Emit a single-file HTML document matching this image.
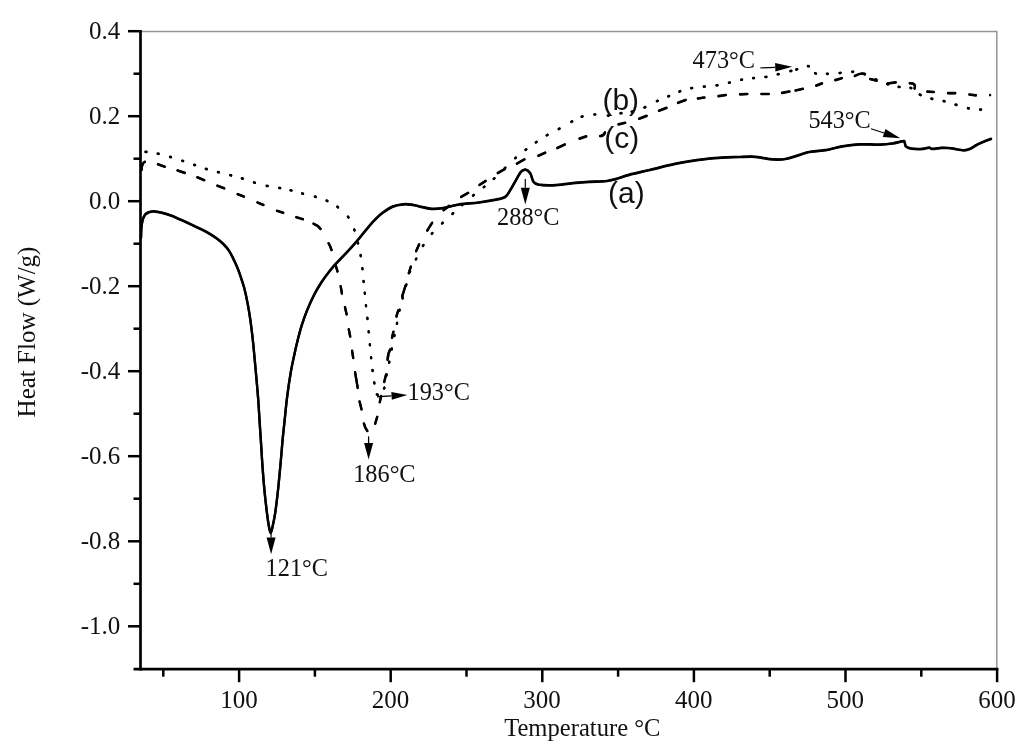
<!DOCTYPE html>
<html lang="en"><head><meta charset="utf-8"><title>DSC heat flow curves</title>
<style>html,body{margin:0;padding:0;background:#fff}svg{display:block}.s{font-family:"Liberation Serif","Times New Roman",serif;font-size:24.3px;fill:#111}.t{font-size:25px}.l{font-size:24.6px}.a{font-family:"Liberation Sans",Arial,sans-serif;font-size:30px;fill:#111}</style></head><body>
<svg width="1024" height="755" viewBox="0 0 1024 755">
<rect width="1024" height="755" fill="#fff"/>
<path d="M140.5 31.6H996.8V669.2" fill="none" stroke="#959595" stroke-width="1.5"/>
<g stroke="#000" stroke-width="2.7" fill="none" stroke-linecap="butt">
<path d="M140.5 29.9V670.6"/>
<path d="M133.5 669.2H998.4"/>
</g>
<g stroke="#000" stroke-width="2.5" fill="none">
<path d="M128.0 31.2H140.5"/>
<path d="M133.5 73.7H140.5"/>
<path d="M128.0 116.2H140.5"/>
<path d="M133.5 158.7H140.5"/>
<path d="M128.0 201.2H140.5"/>
<path d="M133.5 243.7H140.5"/>
<path d="M128.0 286.2H140.5"/>
<path d="M133.5 328.7H140.5"/>
<path d="M128.0 371.2H140.5"/>
<path d="M133.5 413.7H140.5"/>
<path d="M128.0 456.2H140.5"/>
<path d="M133.5 498.7H140.5"/>
<path d="M128.0 541.3H140.5"/>
<path d="M133.5 583.8H140.5"/>
<path d="M128.0 626.3H140.5"/>
<path d="M163.3 669.2V676.7"/>
<path d="M239.1 669.2V682.2"/>
<path d="M314.9 669.2V676.7"/>
<path d="M390.7 669.2V682.2"/>
<path d="M466.5 669.2V676.7"/>
<path d="M542.3 669.2V682.2"/>
<path d="M618.1 669.2V676.7"/>
<path d="M693.9 669.2V682.2"/>
<path d="M769.7 669.2V676.7"/>
<path d="M845.5 669.2V682.2"/>
<path d="M921.3 669.2V676.7"/>
<path d="M997.1 669.2V682.2"/>
</g>
<g class="s t" text-anchor="end">
<text x="120.3" y="38.8">0.4</text>
<text x="120.3" y="123.8">0.2</text>
<text x="120.3" y="208.8">0.0</text>
<text x="120.3" y="293.8">-0.2</text>
<text x="120.3" y="378.8">-0.4</text>
<text x="120.3" y="463.8">-0.6</text>
<text x="120.3" y="548.9">-0.8</text>
<text x="120.3" y="633.9">-1.0</text>
</g>
<g class="s t" text-anchor="middle">
<text x="238.9" y="708.3">100</text>
<text x="390.5" y="708.3">200</text>
<text x="542.1" y="708.3">300</text>
<text x="693.7" y="708.3">400</text>
<text x="845.3" y="708.3">500</text>
<text x="996.9" y="708.3">600</text>
</g>
<text class="s l" x="582.3" y="735.5" text-anchor="middle">Temperature °C</text>
<text class="s t" transform="translate(35 332) rotate(-90)" text-anchor="middle">Heat Flow (W/g)</text>
<g fill="none" stroke="#000" stroke-width="2.3" stroke-linejoin="round" stroke-linecap="round">
<g transform="translate(0 -0.2)">
<path d="M145.55 151.83l0.89 0.13M157.76 153.61l0.88 0.18M170.07 156.87l0.86 0.25M182.27 160.76l0.85 0.28M194.17 164.85l0.85 0.29M205.87 168.87l0.86 0.26M217.96 172.09l0.87 0.22M230.26 175.19l0.87 0.23M241.87 178.37l0.86 0.26M253.97 182.47l0.86 0.26M266.76 185.81l0.88 0.19M279.26 187.92l0.88 0.17M290.56 190.29l0.87 0.21M302.16 193.49l0.87 0.23M314.87 196.67l0.86 0.25M326.59 200.61l0.82 0.37M337.34 206.73l0.71 0.55M347.94 216.74l0.53 0.73M354.24 229.58l0.32 0.84M357.89 242.56l0.22 0.87M360.62 255.16l0.15 0.89M362.35 268.25l0.10 0.89M363.56 281.05l0.09 0.90M364.76 292.75l0.09 0.90M365.95 305.25l0.09 0.90M367.35 317.95l0.09 0.90M368.66 331.35l0.08 0.90M369.86 344.35l0.08 0.90M371.05 357.25l0.09 0.90M372.54 370.05l0.11 0.89M374.21 382.46l0.17 0.88M376.90 394.39l0.80 0.42M384.01 388.51l0.39 -0.81M386.51 375.44l0.17 -0.88M389.11 362.64l0.18 -0.88M391.71 349.44l0.17 -0.88M394.31 336.04l0.18 -0.88M396.91 323.74l0.18 -0.88M399.40 310.64l0.20 -0.88M402.58 298.33l0.23 -0.87M406.08 285.43l0.24 -0.87M409.74 272.12l0.32 -0.84M415.90 259.40l0.41 -0.80M422.96 245.88l0.48 -0.76M431.81 233.74l0.59 -0.68M442.07 223.41l0.65 -0.62M452.47 213.90l0.66 -0.61M461.96 205.10l0.67 -0.60M473.05 195.59l0.70 -0.57M483.75 187.18l0.70 -0.57M493.77 178.90l0.67 -0.60M504.68 168.31l0.65 -0.63M515.16 158.20l0.68 -0.59M525.54 149.87l0.72 -0.54M535.83 142.45l0.74 -0.51M546.71 135.33l0.78 -0.45M558.71 129.02l0.79 -0.43M571.40 121.81l0.80 -0.42M581.67 116.73l0.86 -0.27M594.35 114.52l0.90 -0.03M607.85 115.62l0.90 -0.04M620.56 113.27l0.89 -0.15M631.76 111.71l0.87 -0.22M644.49 107.48l0.83 -0.35M656.89 101.19l0.82 -0.38M668.29 96.38l0.83 -0.35M679.38 91.55l0.85 -0.30M691.26 88.19l0.88 -0.17M703.85 86.65l0.89 -0.10M716.56 85.37l0.89 -0.14M728.96 82.70l0.88 -0.20M741.16 79.78l0.88 -0.16M753.15 78.15l0.89 -0.10M765.46 76.97l0.89 -0.14M777.76 74.30l0.88 -0.21M790.46 71.11l0.87 -0.22M796.37 69.52l0.87 -0.24M807.96 66.11l0.88 0.19M815.08 73.23l0.84 0.33M826.95 73.81l0.90 -0.01M839.65 73.04l0.90 -0.07M852.25 71.78l0.90 0.04M864.07 73.86l0.85 0.28M875.59 79.32l0.82 0.36M887.27 84.06l0.86 0.27M898.66 86.83l0.89 0.15M910.48 87.84l0.84 0.32M919.80 94.59l0.80 0.41M931.37 98.68l0.87 0.23M943.66 101.09l0.87 0.22M955.57 104.67l0.86 0.25M967.96 108.21l0.88 0.17M980.15 109.55l0.89 0.10M990.10 95.10l0.00 0.00"/>
<path d="M141.6 170.0Q142.0 162.5 144.9 161.8M158.0 164.3L164.7 166.7M177.6 170.5L184.8 172.9M197.4 177.3L204.2 180.2M217.4 185.7L224.2 188.3M237.7 194.2L243.9 196.6M257.5 202.5L263.4 204.9M277.0 210.8L283.2 212.8M296.3 217.2L302.9 219.2M313.5 223.7Q318.2 225.3 320.5 228.9M328.6 243.3Q330.4 246.3 331.5 250.0M335.5 264.9L337.5 271.4M340.7 286.3L341.9 293.5M345.0 307.2L346.6 314.3M348.8 329.4L350.2 336.5M352.1 350.8L353.2 358.0M355.1 372.3L357.7 387.8M359.6 401.5L361.5 409.3M363.9 423.6Q365.0 428.0 367.3 430.9M375.2 423.6L377.2 417.0M379.8 402.1L381.0 396.2M384.2 382.0L386.1 374.5M387.6 359.8Q387.9 353.3 390.2 349.5M392.0 337.7L393.4 331.8M396.4 316.5L398.2 310.5M402.2 296.4L405.5 285.7M408.8 273.2L410.8 266.7M416.1 251.2L419.1 244.5M427.3 230.5L432.1 222.8M443.6 210.2L449.2 205.8M461.2 196.9L468.1 192.9M479.5 184.9L485.6 181.0M497.8 173.0L504.7 169.1M516.9 163.6L524.4 159.4M538.4 155.8L545.2 152.7M557.3 148.0L564.8 144.5M579.6 138.6L586.2 136.4M600.1 136.1Q603.5 136.1 605.0 132.5M618.6 124.4L625.1 122.8M639.1 118.7L646.6 115.9M659.0 110.7L666.5 107.9M678.0 102.8L685.6 100.0M697.9 98.5L704.4 97.5M718.5 96.2L725.8 95.0M740.0 94.3L747.3 94.0M761.4 94.0L768.7 94.0M782.1 92.9L789.4 91.5M795.6 90.5L802.9 88.8M816.2 85.6L822.0 83.4M835.3 80.1L841.8 78.2M854.9 75.9Q861.6 72.2 864.7 74.2M870.1 79.0L876.6 80.6M887.6 83.5L895.7 82.3M909.8 83.3Q916.2 82.9 914.6 88.5M927.3 91.7L933.8 92.0M948.0 93.2L955.2 93.2M969.4 94.5L975.9 95.4"/>
<path stroke-width="2.35" d="M141.0 238.0C141.1 236.5 141.1 231.9 141.3 229.0C141.6 226.1 141.9 222.9 142.5 220.5C143.1 218.1 144.1 216.1 145.1 214.7C146.1 213.3 147.2 212.9 148.7 212.3C150.2 211.8 151.8 211.3 154.1 211.4C156.4 211.5 159.6 212.2 162.4 212.9C165.2 213.6 167.4 214.2 170.8 215.5C174.2 216.8 178.7 218.8 182.7 220.6C186.7 222.4 190.6 224.3 194.6 226.2C198.6 228.1 202.9 229.9 206.5 231.9C210.1 233.9 213.2 235.9 216.0 237.9C218.8 239.9 221.0 241.7 223.2 243.9C225.4 246.1 227.4 248.3 229.2 251.0C231.0 253.7 232.4 257.0 233.8 259.8C235.2 262.6 236.4 265.2 237.5 267.9C238.6 270.6 239.4 272.9 240.5 276.2C241.6 279.5 242.9 283.1 244.1 287.5C245.3 291.9 246.5 297.5 247.5 302.8C248.5 308.1 249.5 313.9 250.3 319.5C251.1 325.1 251.9 331.9 252.4 336.2C252.9 340.5 252.8 339.6 253.4 345.5C254.0 351.4 255.0 362.8 255.8 371.5C256.6 380.2 257.4 389.2 258.1 398.0C258.8 406.8 259.3 417.3 259.8 424.5C260.3 431.7 260.4 434.0 260.9 441.0C261.3 448.0 261.9 457.8 262.5 466.5C263.1 475.2 263.9 485.1 264.7 493.0C265.5 500.9 266.4 508.5 267.1 514.2C267.8 519.9 268.5 524.3 269.1 527.4C269.7 530.5 270.1 532.9 270.7 532.9C271.2 532.9 271.7 530.5 272.4 527.4C273.1 524.3 274.1 519.9 275.0 514.2C275.9 508.5 276.8 500.9 277.7 493.0C278.6 485.1 279.5 475.0 280.3 466.5C281.1 458.0 281.8 449.0 282.4 442.0C283.0 435.0 283.4 431.8 284.2 424.5C285.0 417.2 285.9 406.8 287.0 398.0C288.1 389.2 289.6 378.9 290.9 371.5C292.2 364.1 293.5 358.7 294.6 353.5C295.7 348.3 296.4 345.1 297.6 340.4C298.8 335.7 300.2 330.2 301.8 325.1C303.4 320.0 305.2 314.9 307.3 309.8C309.4 304.7 312.0 299.0 314.3 294.5C316.6 290.0 318.9 286.3 321.2 282.7C323.5 279.1 325.9 275.9 328.2 272.9C330.5 269.9 332.8 267.2 335.1 264.6C337.4 262.0 339.8 259.7 342.1 257.3C344.4 254.9 346.5 252.7 349.0 250.0C351.5 247.3 354.1 244.4 357.0 241.0C359.9 237.6 363.3 233.1 366.2 229.7C369.1 226.3 371.5 223.2 374.2 220.5C376.9 217.8 379.0 215.5 382.1 213.2C385.2 210.9 389.2 208.1 392.7 206.6C396.2 205.1 400.0 204.6 403.3 204.3C406.6 204.0 409.8 204.4 412.6 204.8C415.4 205.2 416.9 205.9 420.0 206.6C423.1 207.3 427.3 208.6 431.2 208.8C435.1 209.1 438.5 208.8 443.1 208.1C447.7 207.4 453.0 205.4 459.0 204.5C465.0 203.6 472.9 203.3 478.9 202.5C484.9 201.7 490.4 200.8 494.8 199.9C499.2 199.0 502.6 198.6 505.1 197.0C507.6 195.4 508.3 193.2 510.0 190.5C511.7 187.8 513.7 184.1 515.5 181.0C517.3 177.9 519.3 173.7 521.0 171.8C522.7 169.9 524.1 169.4 525.6 169.6C527.1 169.8 528.9 171.2 530.2 173.2C531.5 175.2 532.1 179.9 533.5 181.8C534.9 183.7 535.0 184.1 538.8 184.7C542.5 185.2 549.8 185.4 556.0 185.1C562.2 184.8 570.3 183.4 575.9 182.8C581.5 182.2 585.4 182.0 589.4 181.8C593.4 181.6 597.1 181.6 600.0 181.5C602.9 181.4 604.4 181.4 607.0 181.0C609.6 180.6 611.8 180.2 615.5 179.2C619.2 178.2 623.5 176.3 629.2 174.8C634.9 173.3 642.1 171.8 649.7 170.0C657.3 168.2 666.9 165.6 675.0 163.9C683.1 162.2 690.8 161.0 698.6 159.9C706.4 158.8 715.0 158.1 721.8 157.6C728.6 157.1 734.6 157.2 739.6 157.0C744.6 156.8 748.3 156.5 752.0 156.6C755.7 156.7 758.6 157.3 762.0 157.8C765.4 158.3 768.7 159.2 772.6 159.4C776.5 159.6 780.5 159.8 785.3 159.0C790.1 158.2 797.2 155.6 801.2 154.4C805.2 153.2 805.2 152.7 809.2 152.0C813.2 151.3 819.7 151.1 825.0 150.2C830.3 149.3 836.9 147.4 840.9 146.6C844.9 145.8 845.6 145.8 848.9 145.4C852.2 145.0 855.6 144.4 860.7 144.3C865.8 144.2 874.4 144.8 879.7 144.7C885.0 144.6 888.5 144.1 892.4 143.5C896.3 142.9 901.0 141.4 903.0 141.2C905.0 140.9 904.2 141.2 904.6 142.0C905.0 142.8 905.0 145.0 905.6 146.0C906.2 147.0 907.0 147.4 908.5 147.9C910.0 148.4 912.5 148.8 914.9 148.9C917.3 149.1 920.6 149.0 923.0 148.8C925.4 148.6 927.7 147.7 929.2 147.7C930.7 147.7 930.1 148.9 932.2 148.9C934.3 148.9 939.1 148.0 941.7 147.8C944.3 147.7 946.0 147.8 948.0 148.0C950.0 148.2 951.0 148.3 953.6 148.7C956.2 149.1 961.1 150.3 963.9 150.3C966.7 150.3 968.2 149.7 970.3 148.8C972.4 147.9 974.2 146.2 976.6 144.9C979.0 143.7 982.3 142.3 984.7 141.3C987.1 140.3 990.0 139.3 991.0 138.9"/>
</g>
<g transform="translate(0 0.2)">
<path d="M145.55 151.83l0.89 0.13M157.76 153.61l0.88 0.18M170.07 156.87l0.86 0.25M182.27 160.76l0.85 0.28M194.17 164.85l0.85 0.29M205.87 168.87l0.86 0.26M217.96 172.09l0.87 0.22M230.26 175.19l0.87 0.23M241.87 178.37l0.86 0.26M253.97 182.47l0.86 0.26M266.76 185.81l0.88 0.19M279.26 187.92l0.88 0.17M290.56 190.29l0.87 0.21M302.16 193.49l0.87 0.23M314.87 196.67l0.86 0.25M326.59 200.61l0.82 0.37M337.34 206.73l0.71 0.55M347.94 216.74l0.53 0.73M354.24 229.58l0.32 0.84M357.89 242.56l0.22 0.87M360.62 255.16l0.15 0.89M362.35 268.25l0.10 0.89M363.56 281.05l0.09 0.90M364.76 292.75l0.09 0.90M365.95 305.25l0.09 0.90M367.35 317.95l0.09 0.90M368.66 331.35l0.08 0.90M369.86 344.35l0.08 0.90M371.05 357.25l0.09 0.90M372.54 370.05l0.11 0.89M374.21 382.46l0.17 0.88M376.90 394.39l0.80 0.42M384.01 388.51l0.39 -0.81M386.51 375.44l0.17 -0.88M389.11 362.64l0.18 -0.88M391.71 349.44l0.17 -0.88M394.31 336.04l0.18 -0.88M396.91 323.74l0.18 -0.88M399.40 310.64l0.20 -0.88M402.58 298.33l0.23 -0.87M406.08 285.43l0.24 -0.87M409.74 272.12l0.32 -0.84M415.90 259.40l0.41 -0.80M422.96 245.88l0.48 -0.76M431.81 233.74l0.59 -0.68M442.07 223.41l0.65 -0.62M452.47 213.90l0.66 -0.61M461.96 205.10l0.67 -0.60M473.05 195.59l0.70 -0.57M483.75 187.18l0.70 -0.57M493.77 178.90l0.67 -0.60M504.68 168.31l0.65 -0.63M515.16 158.20l0.68 -0.59M525.54 149.87l0.72 -0.54M535.83 142.45l0.74 -0.51M546.71 135.33l0.78 -0.45M558.71 129.02l0.79 -0.43M571.40 121.81l0.80 -0.42M581.67 116.73l0.86 -0.27M594.35 114.52l0.90 -0.03M607.85 115.62l0.90 -0.04M620.56 113.27l0.89 -0.15M631.76 111.71l0.87 -0.22M644.49 107.48l0.83 -0.35M656.89 101.19l0.82 -0.38M668.29 96.38l0.83 -0.35M679.38 91.55l0.85 -0.30M691.26 88.19l0.88 -0.17M703.85 86.65l0.89 -0.10M716.56 85.37l0.89 -0.14M728.96 82.70l0.88 -0.20M741.16 79.78l0.88 -0.16M753.15 78.15l0.89 -0.10M765.46 76.97l0.89 -0.14M777.76 74.30l0.88 -0.21M790.46 71.11l0.87 -0.22M796.37 69.52l0.87 -0.24M807.96 66.11l0.88 0.19M815.08 73.23l0.84 0.33M826.95 73.81l0.90 -0.01M839.65 73.04l0.90 -0.07M852.25 71.78l0.90 0.04M864.07 73.86l0.85 0.28M875.59 79.32l0.82 0.36M887.27 84.06l0.86 0.27M898.66 86.83l0.89 0.15M910.48 87.84l0.84 0.32M919.80 94.59l0.80 0.41M931.37 98.68l0.87 0.23M943.66 101.09l0.87 0.22M955.57 104.67l0.86 0.25M967.96 108.21l0.88 0.17M980.15 109.55l0.89 0.10M990.10 95.10l0.00 0.00"/>
<path d="M141.6 170.0Q142.0 162.5 144.9 161.8M158.0 164.3L164.7 166.7M177.6 170.5L184.8 172.9M197.4 177.3L204.2 180.2M217.4 185.7L224.2 188.3M237.7 194.2L243.9 196.6M257.5 202.5L263.4 204.9M277.0 210.8L283.2 212.8M296.3 217.2L302.9 219.2M313.5 223.7Q318.2 225.3 320.5 228.9M328.6 243.3Q330.4 246.3 331.5 250.0M335.5 264.9L337.5 271.4M340.7 286.3L341.9 293.5M345.0 307.2L346.6 314.3M348.8 329.4L350.2 336.5M352.1 350.8L353.2 358.0M355.1 372.3L357.7 387.8M359.6 401.5L361.5 409.3M363.9 423.6Q365.0 428.0 367.3 430.9M375.2 423.6L377.2 417.0M379.8 402.1L381.0 396.2M384.2 382.0L386.1 374.5M387.6 359.8Q387.9 353.3 390.2 349.5M392.0 337.7L393.4 331.8M396.4 316.5L398.2 310.5M402.2 296.4L405.5 285.7M408.8 273.2L410.8 266.7M416.1 251.2L419.1 244.5M427.3 230.5L432.1 222.8M443.6 210.2L449.2 205.8M461.2 196.9L468.1 192.9M479.5 184.9L485.6 181.0M497.8 173.0L504.7 169.1M516.9 163.6L524.4 159.4M538.4 155.8L545.2 152.7M557.3 148.0L564.8 144.5M579.6 138.6L586.2 136.4M600.1 136.1Q603.5 136.1 605.0 132.5M618.6 124.4L625.1 122.8M639.1 118.7L646.6 115.9M659.0 110.7L666.5 107.9M678.0 102.8L685.6 100.0M697.9 98.5L704.4 97.5M718.5 96.2L725.8 95.0M740.0 94.3L747.3 94.0M761.4 94.0L768.7 94.0M782.1 92.9L789.4 91.5M795.6 90.5L802.9 88.8M816.2 85.6L822.0 83.4M835.3 80.1L841.8 78.2M854.9 75.9Q861.6 72.2 864.7 74.2M870.1 79.0L876.6 80.6M887.6 83.5L895.7 82.3M909.8 83.3Q916.2 82.9 914.6 88.5M927.3 91.7L933.8 92.0M948.0 93.2L955.2 93.2M969.4 94.5L975.9 95.4"/>
<path stroke-width="2.35" d="M141.0 238.0C141.1 236.5 141.1 231.9 141.3 229.0C141.6 226.1 141.9 222.9 142.5 220.5C143.1 218.1 144.1 216.1 145.1 214.7C146.1 213.3 147.2 212.9 148.7 212.3C150.2 211.8 151.8 211.3 154.1 211.4C156.4 211.5 159.6 212.2 162.4 212.9C165.2 213.6 167.4 214.2 170.8 215.5C174.2 216.8 178.7 218.8 182.7 220.6C186.7 222.4 190.6 224.3 194.6 226.2C198.6 228.1 202.9 229.9 206.5 231.9C210.1 233.9 213.2 235.9 216.0 237.9C218.8 239.9 221.0 241.7 223.2 243.9C225.4 246.1 227.4 248.3 229.2 251.0C231.0 253.7 232.4 257.0 233.8 259.8C235.2 262.6 236.4 265.2 237.5 267.9C238.6 270.6 239.4 272.9 240.5 276.2C241.6 279.5 242.9 283.1 244.1 287.5C245.3 291.9 246.5 297.5 247.5 302.8C248.5 308.1 249.5 313.9 250.3 319.5C251.1 325.1 251.9 331.9 252.4 336.2C252.9 340.5 252.8 339.6 253.4 345.5C254.0 351.4 255.0 362.8 255.8 371.5C256.6 380.2 257.4 389.2 258.1 398.0C258.8 406.8 259.3 417.3 259.8 424.5C260.3 431.7 260.4 434.0 260.9 441.0C261.3 448.0 261.9 457.8 262.5 466.5C263.1 475.2 263.9 485.1 264.7 493.0C265.5 500.9 266.4 508.5 267.1 514.2C267.8 519.9 268.5 524.3 269.1 527.4C269.7 530.5 270.1 532.9 270.7 532.9C271.2 532.9 271.7 530.5 272.4 527.4C273.1 524.3 274.1 519.9 275.0 514.2C275.9 508.5 276.8 500.9 277.7 493.0C278.6 485.1 279.5 475.0 280.3 466.5C281.1 458.0 281.8 449.0 282.4 442.0C283.0 435.0 283.4 431.8 284.2 424.5C285.0 417.2 285.9 406.8 287.0 398.0C288.1 389.2 289.6 378.9 290.9 371.5C292.2 364.1 293.5 358.7 294.6 353.5C295.7 348.3 296.4 345.1 297.6 340.4C298.8 335.7 300.2 330.2 301.8 325.1C303.4 320.0 305.2 314.9 307.3 309.8C309.4 304.7 312.0 299.0 314.3 294.5C316.6 290.0 318.9 286.3 321.2 282.7C323.5 279.1 325.9 275.9 328.2 272.9C330.5 269.9 332.8 267.2 335.1 264.6C337.4 262.0 339.8 259.7 342.1 257.3C344.4 254.9 346.5 252.7 349.0 250.0C351.5 247.3 354.1 244.4 357.0 241.0C359.9 237.6 363.3 233.1 366.2 229.7C369.1 226.3 371.5 223.2 374.2 220.5C376.9 217.8 379.0 215.5 382.1 213.2C385.2 210.9 389.2 208.1 392.7 206.6C396.2 205.1 400.0 204.6 403.3 204.3C406.6 204.0 409.8 204.4 412.6 204.8C415.4 205.2 416.9 205.9 420.0 206.6C423.1 207.3 427.3 208.6 431.2 208.8C435.1 209.1 438.5 208.8 443.1 208.1C447.7 207.4 453.0 205.4 459.0 204.5C465.0 203.6 472.9 203.3 478.9 202.5C484.9 201.7 490.4 200.8 494.8 199.9C499.2 199.0 502.6 198.6 505.1 197.0C507.6 195.4 508.3 193.2 510.0 190.5C511.7 187.8 513.7 184.1 515.5 181.0C517.3 177.9 519.3 173.7 521.0 171.8C522.7 169.9 524.1 169.4 525.6 169.6C527.1 169.8 528.9 171.2 530.2 173.2C531.5 175.2 532.1 179.9 533.5 181.8C534.9 183.7 535.0 184.1 538.8 184.7C542.5 185.2 549.8 185.4 556.0 185.1C562.2 184.8 570.3 183.4 575.9 182.8C581.5 182.2 585.4 182.0 589.4 181.8C593.4 181.6 597.1 181.6 600.0 181.5C602.9 181.4 604.4 181.4 607.0 181.0C609.6 180.6 611.8 180.2 615.5 179.2C619.2 178.2 623.5 176.3 629.2 174.8C634.9 173.3 642.1 171.8 649.7 170.0C657.3 168.2 666.9 165.6 675.0 163.9C683.1 162.2 690.8 161.0 698.6 159.9C706.4 158.8 715.0 158.1 721.8 157.6C728.6 157.1 734.6 157.2 739.6 157.0C744.6 156.8 748.3 156.5 752.0 156.6C755.7 156.7 758.6 157.3 762.0 157.8C765.4 158.3 768.7 159.2 772.6 159.4C776.5 159.6 780.5 159.8 785.3 159.0C790.1 158.2 797.2 155.6 801.2 154.4C805.2 153.2 805.2 152.7 809.2 152.0C813.2 151.3 819.7 151.1 825.0 150.2C830.3 149.3 836.9 147.4 840.9 146.6C844.9 145.8 845.6 145.8 848.9 145.4C852.2 145.0 855.6 144.4 860.7 144.3C865.8 144.2 874.4 144.8 879.7 144.7C885.0 144.6 888.5 144.1 892.4 143.5C896.3 142.9 901.0 141.4 903.0 141.2C905.0 140.9 904.2 141.2 904.6 142.0C905.0 142.8 905.0 145.0 905.6 146.0C906.2 147.0 907.0 147.4 908.5 147.9C910.0 148.4 912.5 148.8 914.9 148.9C917.3 149.1 920.6 149.0 923.0 148.8C925.4 148.6 927.7 147.7 929.2 147.7C930.7 147.7 930.1 148.9 932.2 148.9C934.3 148.9 939.1 148.0 941.7 147.8C944.3 147.7 946.0 147.8 948.0 148.0C950.0 148.2 951.0 148.3 953.6 148.7C956.2 149.1 961.1 150.3 963.9 150.3C966.7 150.3 968.2 149.7 970.3 148.8C972.4 147.9 974.2 146.2 976.6 144.9C979.0 143.7 982.3 142.3 984.7 141.3C987.1 140.3 990.0 139.3 991.0 138.9"/>
</g>
</g>
<text class="s" x="265.6" y="576">121°C</text>
<line x1="271.1" y1="531.0" x2="271.1" y2="537.6" stroke="#000" stroke-width="1.2"/><polygon points="271.1,554.2 266.6,537.6 275.6,537.6" fill="#000"/>
<text class="s" x="353.2" y="481.7">186°C</text>
<line x1="368.6" y1="436.4" x2="368.6" y2="443.0" stroke="#000" stroke-width="1.3"/><polygon points="368.6,459.6 364.1,443.0 373.1,443.0" fill="#000"/>
<text class="s" x="407.5" y="400.4">193°C</text>
<line x1="377.1" y1="396.8" x2="391.5" y2="395.9" stroke="#000" stroke-width="1.4"/><polygon points="407.4,394.9 391.8,399.8 391.3,392.0" fill="#000"/>
<text class="s" x="497.1" y="225.2">288°C</text>
<line x1="525.3" y1="179.1" x2="525.3" y2="187.8" stroke="#000" stroke-width="1.2"/><polygon points="525.3,204.4 520.8,187.8 529.8,187.8" fill="#000"/>
<text class="s" x="692.6" y="67.7">473°C</text>
<line x1="760.4" y1="67.9" x2="775.2" y2="67.3" stroke="#000" stroke-width="1.2"/><polygon points="792.2,66.7 775.4,71.6 775.1,63.1" fill="#000"/>
<text class="s" x="808.4" y="128.3">543°C</text>
<line x1="871.0" y1="128.7" x2="884.1" y2="133.0" stroke="#000" stroke-width="1.2"/><polygon points="900.3,138.2 882.8,137.0 885.4,128.9" fill="#000"/>
<text class="a" x="602.4" y="110.4">(b)</text>
<text class="a" x="604.3" y="147.5">(c)</text>
<text class="a" x="608.0" y="203.4">(a)</text>
</svg></body></html>
